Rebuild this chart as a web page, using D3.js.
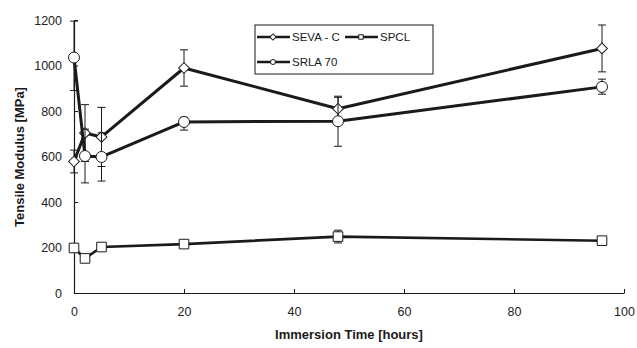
<!DOCTYPE html>
<html><head><meta charset="utf-8">
<script src="https://cdn.jsdelivr.net/npm/d3@7"></script>
<style>body{margin:0;background:#fff}</style>
</head><body>
<svg id="c" width="637" height="348"></svg>
<script>
const times = [0, 2, 5, 20, 48, 96];
const sevaC = [578, 703, 686, 989, 810, 1075];
const sevaErrLo = [50, 125, 130, 80, 50, 103];
const sevaErrHi = [50, 125, 130, 80, 50, 103];
const spcl = [198, 152, 202, 215, 248, 230];
const spclErrLo = [0, 0, 0, 0, 28, 0];
const spclErrHi = [0, 0, 0, 0, 28, 0];
const spla = [1035, 602, 598, 752, 755, 906];
const splaErrLo = [145, 118, 106, 36, 110, 32];
const splaErrHi = [160, 118, 106, 20, 110, 34];
const xTicks = [0, 20, 40, 60, 80, 100];
const yTicks = [0, 200, 400, 600, 800, 1000, 1200];
const seriesNames = ["SEVA - C", "SPCL", "SRLA 70"];

const svg = d3.select("#c");
const x = d3.scaleLinear().domain([0, 100]).range([74, 624]);
const y = d3.scaleLinear().domain([0, 1200]).range([293, 20]);
const ink = "#1a1a1a";
const font = "Liberation Sans, Arial, sans-serif";

const xAxis = svg.append("g").attr("transform", `translate(0,${y(0)})`)
  .call(d3.axisBottom(x).tickValues(xTicks).tickFormat(d3.format("d")).tickSizeInner(-4).tickSizeOuter(0).tickPadding(14));
const yAxis = svg.append("g").attr("transform", `translate(${x(0)},0)`)
  .call(d3.axisLeft(y).tickValues(yTicks).tickFormat(d3.format("d")).tickSizeInner(-4).tickSizeOuter(0).tickPadding(12));
[xAxis, yAxis].forEach(a => {
  a.select(".domain").attr("stroke", ink).attr("stroke-width", 1.2);
  a.selectAll(".tick line").attr("stroke", ink);
  a.selectAll("text").attr("font-family", font).attr("font-size", 12.5).attr("fill", "#222");
});
svg.append("text").attr("x", 349).attr("y", 339).attr("text-anchor", "middle")
  .attr("font-family", font).attr("font-weight", "bold")
  .attr("font-size", 13).attr("fill", ink).text("Immersion Time [hours]");
svg.append("text").attr("transform", "translate(24,157) rotate(-90)").attr("text-anchor", "middle")
  .attr("font-family", font).attr("font-weight", "bold")
  .attr("font-size", 13).attr("fill", ink).text("Tensile Modulus [MPa]");

const series = [
  {vals: sevaC, lo: sevaErrLo, hi: sevaErrHi, sym: d3.symbolSquare, rot: 45, size: 58, w: 3},
  {vals: spcl, lo: spclErrLo, hi: spclErrHi, sym: d3.symbolSquare, rot: 0, size: 92, w: 2.6},
  {vals: spla, lo: splaErrLo, hi: splaErrHi, sym: d3.symbolCircle, rot: 0, size: 95, w: 3}
];
const line = d3.line().x((d, i) => x(times[i])).y(d => y(d));

series.forEach(s => {
  const g = svg.append("g");
  g.append("path").attr("d", line(s.vals)).attr("fill", "none").attr("stroke", ink)
    .attr("stroke-width", s.w).attr("stroke-linejoin", "round");
  s.vals.forEach((v, i) => {
    if (s.lo[i] === 0 && s.hi[i] === 0) return;
    const cx = x(times[i]), y1 = y(v + s.hi[i]), y2 = y(v - s.lo[i]);
    g.append("line").attr("x1", cx).attr("x2", cx).attr("y1", y1).attr("y2", y2)
      .attr("stroke", ink).attr("stroke-width", 1);
    [y1, y2].forEach(yy => g.append("line").attr("x1", cx - 4).attr("x2", cx + 4)
      .attr("y1", yy).attr("y2", yy).attr("stroke", ink).attr("stroke-width", 1));
  });
  s.vals.forEach((v, i) => {
    g.append("path").attr("d", d3.symbol(s.sym, s.size)())
      .attr("transform", `translate(${x(times[i])},${y(v)}) rotate(${s.rot})`)
      .attr("fill", "#fff").attr("stroke", ink).attr("stroke-width", 1);
  });
});

const lg = svg.append("g");
lg.append("rect").attr("x", 255).attr("y", 25).attr("width", 178).attr("height", 49)
  .attr("fill", "#fff").attr("stroke", ink).attr("stroke-width", 1);
const legendPos = [[257, 37], [345, 37], [257, 62]];
series.forEach((s, i) => {
  const [lx, ly] = legendPos[i];
  lg.append("line").attr("x1", lx).attr("x2", lx + 33).attr("y1", ly).attr("y2", ly)
    .attr("stroke", ink).attr("stroke-width", 2.5);
  lg.append("path").attr("d", d3.symbol(s.sym, 20)())
    .attr("transform", `translate(${lx + 16},${ly}) rotate(${s.rot})`)
    .attr("fill", "#fff").attr("stroke", ink).attr("stroke-width", 1);
  lg.append("text").attr("x", lx + 35).attr("y", ly + 4)
    .attr("font-family", font).attr("font-size", 11.5)
    .attr("fill", ink).text(seriesNames[i]);
});
</script>
</body></html>
